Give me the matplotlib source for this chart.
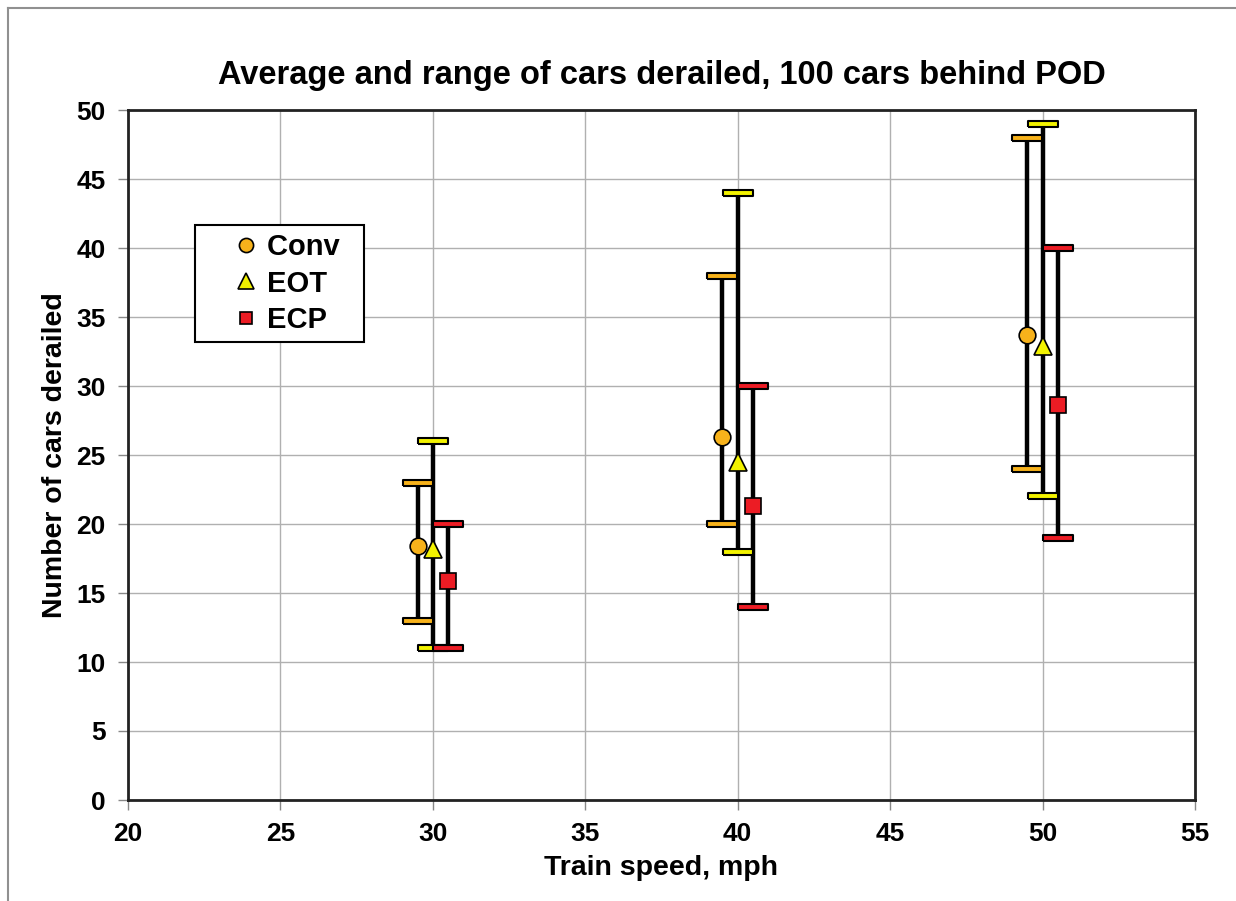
import matplotlib
matplotlib.use("Agg")
from matplotlib import pyplot as plt
from matplotlib.lines import Line2D

speeds = [30, 40, 50]
offsets = {"Conv": -0.5, "EOT": 0.0, "ECP": 0.5}

conv_mean = [18.4, 26.3, 33.7]
conv_min = [13, 20, 24]
conv_max = [23, 38, 48]

eot_mean = [18.2, 24.5, 32.9]
eot_min = [11, 18, 22]
eot_max = [26, 44, 49]

ecp_mean = [15.9, 21.3, 28.6]
ecp_min = [11, 14, 19]
ecp_max = [20, 30, 40]

series = [
    ("Conv", conv_mean, conv_min, conv_max, "o", "#F7B21B", 12),
    ("EOT", eot_mean, eot_min, eot_max, "^", "#F2F200", 13),
    ("ECP", ecp_mean, ecp_min, ecp_max, "s", "#EC1C24", 11),
]

plt.rcParams["font.family"] = ["Liberation Sans", "DejaVu Sans"]
plt.rcParams["font.weight"] = "bold"

fig = plt.figure(figsize=(12.36, 9.01), dpi=100)
ax = fig.add_axes([128 / 1236, 1 - 800 / 901, (1195 - 128) / 1236, (800 - 110) / 901])

# thin rectangle used as the end caps
cap = [(-1, -0.2), (1, -0.2), (1, 0.2), (-1, 0.2), (-1, -0.2)]

for name, mean, lo, hi, mk, col, ms in series:
    xs = [s + offsets[name] for s in speeds]
    ax.vlines(xs, lo, hi, color="black", lw=3.2, zorder=3)
    ax.plot(xs, lo, ls="none", marker=cap, ms=22, mfc=col, mec="black", mew=1.5, zorder=4)
    ax.plot(xs, hi, ls="none", marker=cap, ms=22, mfc=col, mec="black", mew=1.5, zorder=4)
    # trailing spaces give the legend box its extra right margin
    ax.plot(xs, mean, ls="none", marker=mk, ms=ms, mfc=col, mec="black", mew=1.2,
            zorder=5, label=name + "  ")

ax.set_xlim(20, 55)
ax.set_ylim(0, 50)
ax.set_xticks(range(20, 56, 5))
ax.set_yticks(range(0, 51, 5))
ax.grid(True, color="#B0B0B0", lw=1)
ax.set_axisbelow(True)
for sp in ax.spines.values():
    sp.set_linewidth(2)
    sp.set_color("#222222")
ax.tick_params(direction="out", length=7, width=1, color="#888888", labelsize=19, pad=9)
for lbl in ax.get_xticklabels() + ax.get_yticklabels():
    lbl.set_fontweight("bold")

ax.set_title("Average and range of cars derailed, 100 cars behind POD",
             fontsize=23.5, fontweight="bold", pad=19)
ax.set_xlabel("Train speed, mph", fontsize=20.5, fontweight="bold", labelpad=6)
ax.set_ylabel("Number of cars derailed", fontsize=20.5, fontweight="bold", labelpad=6)

leg = ax.legend(loc="upper left", bbox_to_anchor=((195 - 128) / 1067, 1 - (225 - 110) / 690),
                fancybox=False, framealpha=1, edgecolor="black", borderpad=0.28,
                prop={"size": 21, "weight": "bold"}, handletextpad=-0.75,
                borderaxespad=0, handlelength=2.93, labelspacing=0.29, markerscale=0.85)
leg.get_frame().set_linewidth(1.5)

# outer chart border
fig.add_artist(Line2D([8 / 1236, 8 / 1236], [0, 1 - 8 / 901], color="#909090", lw=1.5))
fig.add_artist(Line2D([8 / 1236, 1], [1 - 8 / 901, 1 - 8 / 901], color="#909090", lw=1.5))

fig.savefig("out.png", dpi=100)
